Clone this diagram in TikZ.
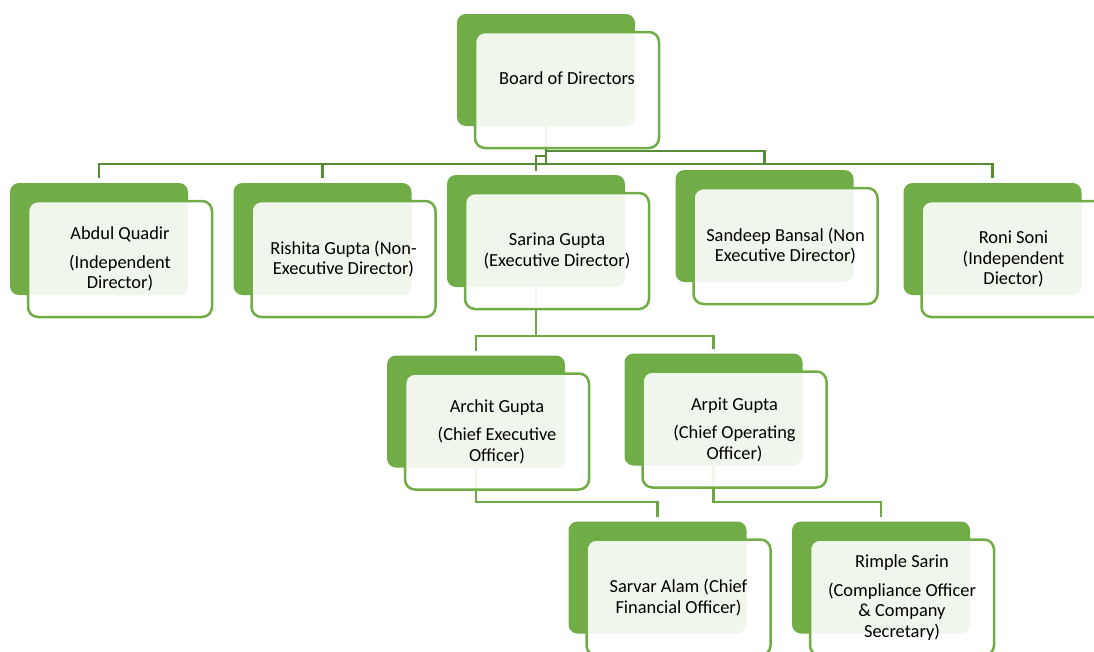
\documentclass[tikz,border=0pt]{standalone}
\usepackage{fontspec}
\setmainfont{Carlito}
\definecolor{boxgreen}{HTML}{70AD47}
\definecolor{lineA}{HTML}{578C37}
\definecolor{lineB}{HTML}{6EA746}
\tikzset{
  backbox/.style={rectangle, rounded corners=9pt, fill=boxgreen, draw=none,
    minimum width=178pt, minimum height=112pt, inner sep=0pt, outer sep=0pt},
  frontbox/.style={rectangle, rounded corners=10pt, fill=white, fill opacity=0.9,
    draw=boxgreen, draw opacity=1, line width=2.5pt,
    minimum width=184pt, minimum height=116pt, inner sep=0pt, outer sep=0pt},
  txt/.style={align=center, text=black, inner sep=0pt,
    font=\fontsize{18.4}{20.5}\selectfont},
  conA/.style={draw=lineA, line width=2.3pt},
  conB/.style={draw=lineB, line width=2.8pt},
}
\begin{document}
\begin{tikzpicture}[x=1pt, y=-1pt]
\useasboundingbox (0,0) rectangle (1094,651);
\clip (0,0) rectangle (1094,651);

% back boxes
\node[backbox] (bod) at (546,70) {};
\node[backbox] (abd) at (99,239) {};
\node[backbox] (ris) at (322.5,239) {};
\node[backbox] (sar) at (536,231) {};
\node[backbox] (san) at (764.5,226) {};
\node[backbox] (ron) at (992.5,239) {};
\node[backbox] (arc) at (476,411.5) {};
\node[backbox] (arp) at (713.5,409.5) {};
\node[backbox] (sav) at (657.5,577.5) {};
\node[backbox] (rim) at (881,577.5) {};

% junction coordinates
\coordinate (j0) at (546,164);
\coordinate (j1) at (546,151);
\coordinate (j2) at (546,156);
\coordinate (k0) at (536,336);
\coordinate (m0) at (476,502);
\coordinate (m1) at (713.5,502);

% connectors (under the front boxes)
\draw[conA] (bod.south) -- (j0) -| ([yshift=5pt]abd.north);
\draw[conA] (j0) -| ([yshift=5pt]ris.north);
\draw[conA] (j0) -| ([yshift=5pt]ron.north);
\draw[conA] (bod.south) -- (j1) -| ([yshift=6pt]san.north);
\draw[conA] (bod.south) -- (j2) -| ([yshift=4pt]sar.north);
\draw[conB] (sar.south) -- (k0) -| ([yshift=5pt]arc.north);
\draw[conB] (k0) -| ([yshift=5pt]arp.north);
\draw[conB] (arc.south) -- (m0) -| ([yshift=5pt]sav.north);
\draw[conB] (arp.south) -- (m1) -| ([yshift=5pt]rim.north);

% front boxes
\foreach \n in {bod,abd,ris,sar,san,ron,arc,arp,sav,rim}{
  \node[frontbox] (\n f) at ([xshift=21pt,yshift=-20pt]\n.center) {};
}

% texts
\node[txt] (bodt) at ([yshift=11.5pt]bodf.center) {Board of Directors};
\node[txt] (abdt) at (abdf.center) {Abdul Quadir\\[8pt](Independent\\Director)};
\node[txt] (rist) at (risf.center) {Rishita Gupta (Non-\\Executive Director)};
\node[txt] (sart) at (sarf.center) {Sarina Gupta\\(Executive Director)};
\node[txt] (sant) at (sanf.center) {Sandeep Bansal (Non\\Executive Director)};
\node[txt] (ront) at (ronf.center) {Roni Soni\\(Independent\\Diector)};
\node[txt] (arct) at (arcf.center) {Archit Gupta\\[8pt](Chief Executive\\Officer)};
\node[txt] (arpt) at (arpf.center) {Arpit Gupta\\[8pt](Chief Operating\\Officer)};
\node[txt] (savt) at (savf.center) {Sarvar Alam (Chief\\Financial Officer)};
\node[txt] (rimt) at (rimf.center) {Rimple Sarin\\[8pt](Compliance Officer\\\& Company\\Secretary)};
\end{tikzpicture}
\end{document}
